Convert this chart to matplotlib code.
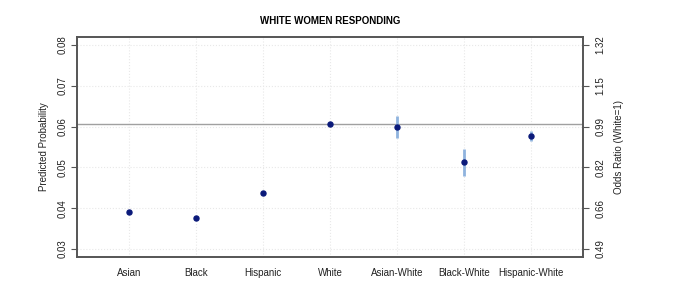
import matplotlib.pyplot as plt

plt.rcParams['font.family'] = ['Liberation Sans', 'DejaVu Sans']

# data
groups = ["Asian", "Black", "Hispanic", "White", "Asian-White", "Black-White", "Hispanic-White"]
prob = [0.0391, 0.0376, 0.0437, 0.0606, 0.0600, 0.0513, 0.0578]
lower = [0.0387, 0.0372, 0.0433, 0.0604, 0.0573, 0.0480, 0.0565]
upper = [0.0395, 0.0380, 0.0441, 0.0608, 0.0625, 0.0546, 0.0590]
white_ref = 0.0606
prob_ticks = [0.03, 0.04, 0.05, 0.06, 0.07, 0.08]
odds_labels = ["0.49", "0.66", "0.82", "0.99", "1.15", "1.32"]

fig = plt.figure(figsize=(6.75, 3), dpi=100)
ax = fig.add_axes([0.114, 0.143, 0.750, 0.734])

x = list(range(1, len(groups) + 1))

# grid like R's grid()
for xi in x:
    ax.axvline(xi, color="#e8e8e8", lw=0.8, ls=":", zorder=0)
for t in prob_ticks:
    ax.axhline(t, color="#e8e8e8", lw=0.8, ls=":", zorder=0)

ax.axhline(white_ref, color="#a0a0a0", lw=1.0, zorder=1)

ax.vlines(x, lower, upper, color="#8fb3de", lw=2.0, zorder=2)
ax.plot(x, prob, "o", color="#0b1a7a", ms=3.6, zorder=3)

ax.set_xlim(0.22, 7.78)
ax.set_ylim(0.028, 0.082)
ax.set_xticks(x)
ax.set_xticklabels(groups, fontsize=7, color="#222222")
ax.tick_params(axis="x", length=0, pad=8)
ax.set_yticks(prob_ticks)
ax.set_yticklabels([f"{t:.2f}" for t in prob_ticks], rotation=90, va="center",
                   fontsize=7, color="#222222")
ax.tick_params(axis="y", length=4, width=0.8, color="#555555", pad=3)
ax.set_ylabel("Predicted Probability", fontsize=7, color="#222222", labelpad=6)

for s in ax.spines.values():
    s.set_color("#555555")
    s.set_linewidth(1.4)

ax2 = ax.twinx()
ax2.set_ylim(ax.get_ylim())
ax2.set_yticks(prob_ticks)
ax2.set_yticklabels(odds_labels, rotation=90, va="center", fontsize=7, color="#222222")
ax2.tick_params(axis="y", length=4, width=0.8, color="#555555", pad=5)
ax2.set_ylabel("Odds Ratio (White=1)", fontsize=7, color="#222222", labelpad=6)
for s in ax2.spines.values():
    s.set_visible(False)

ax.set_title("WHITE WOMEN RESPONDING", fontsize=7, fontweight="bold", pad=9)

fig.savefig("out.png", dpi=100)
